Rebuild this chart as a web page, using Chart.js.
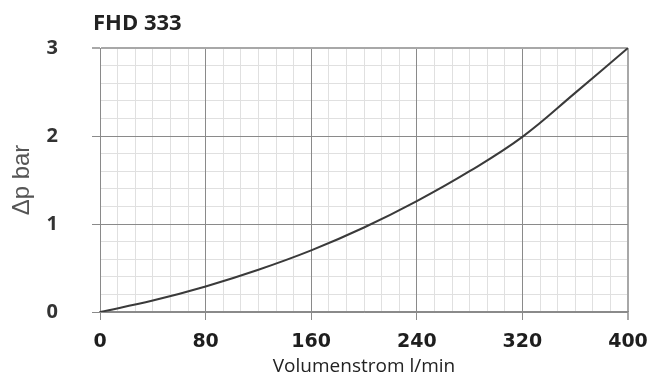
<!DOCTYPE html>
<html>
<head>
<meta charset="utf-8">
<script src="https://cdn.jsdelivr.net/npm/chart.js@4/dist/chart.umd.min.js"></script>
<style>
  html, body { margin: 0; padding: 0; background: #fff; }
  canvas { display: block; }
</style>
</head>
<body>
<canvas id="c" width="652" height="378"></canvas>
<script>
// Pressure drop curve of the FHD 333 filter housing
const TITLE = 'FHD 333';
const X_TITLE = 'Volumenstrom l/min';
const Y_TITLE = 'Δp bar';

const flowRates = [0, 40, 80, 120, 160, 200, 240, 280, 320, 360, 400];     // l/min
const pressureDrop = [0, 0.13, 0.29, 0.48, 0.70, 0.96, 1.26, 1.60, 1.99, 2.49, 3.0]; // bar

const xTicks = [0, 80, 160, 240, 320, 400];
const yTicks = [0, 1, 2, 3];
const X_MINOR_STEP = 80 / 6;
const Y_MINOR_STEP = 0.2;

const X_MIN = 0, X_MAX = 400, Y_MIN = 0, Y_MAX = 3;

const points = flowRates.map((q, i) => ({ x: q, y: pressureDrop[i] }));

function minorTicks(min, max, step) {
  const out = [];
  const n = Math.round((max - min) / step);
  for (let i = 0; i <= n; i++) out.push({ value: min + i * step });
  return out;
}

const headingPlugin = {
  id: 'heading',
  afterDraw(chart) {
    const ctx = chart.ctx;
    ctx.save();
    ctx.font = 'bold 22px "Open Sans"';
    ctx.fillStyle = '#222';
    ctx.textBaseline = 'alphabetic';
    ctx.textAlign = 'left';
    ctx.fillText(TITLE, 93, 30);
    ctx.restore();
  }
};

new Chart(document.getElementById('c'), {
  type: 'line',
  data: {
    datasets: [{
      data: points,
      borderColor: '#3a3a3a',
      borderWidth: 2,
      pointRadius: 0,
      tension: 0.4,
      fill: false
    }]
  },
  options: {
    responsive: false,
    animation: false,
    events: [],
    layout: { padding: { top: 48, right: 24, bottom: 0, left: 0 } },
    plugins: { legend: { display: false }, tooltip: { enabled: false }, title: { display: false } },
    scales: {
      xm: {
        type: 'linear', position: 'bottom', min: X_MIN, max: X_MAX,
        afterBuildTicks: s => { s.ticks = minorTicks(X_MIN, X_MAX, X_MINOR_STEP); },
        afterFit: s => { s.height = 0; s.paddingLeft = 0; s.paddingRight = 0; },
        ticks: { display: false },
        border: { display: false },
        grid: { z: -2, color: '#e0e0e0', lineWidth: 1, drawTicks: false }
      },
      ym: {
        type: 'linear', position: 'left', min: Y_MIN, max: Y_MAX,
        afterBuildTicks: s => { s.ticks = minorTicks(Y_MIN, Y_MAX, Y_MINOR_STEP); },
        afterFit: s => { s.width = 0; s.paddingTop = 0; s.paddingBottom = 0; },
        ticks: { display: false },
        border: { display: false },
        grid: { z: -2, color: '#e0e0e0', lineWidth: 1, drawTicks: false }
      },
      x: {
        type: 'linear', position: 'bottom', min: X_MIN, max: X_MAX,
        afterBuildTicks: s => { s.ticks = xTicks.map(v => ({ value: v })); },
        afterFit: s => { s.height = 66; s.paddingLeft = 0; s.paddingRight = 0; },
        ticks: {
          color: '#1e1e1e',
          font: { family: '"DejaVu Sans"', weight: 'bold', size: 19 },
          padding: 11,
          maxRotation: 0
        },
        border: { color: '#8a8a8a', width: 1.5 },
        grid: {
          z: -1,
          tickLength: 8,
          color: c => (c.tick && c.tick.value === X_MAX) ? '#a8a8a8' : '#8a8a8a',
          lineWidth: c => (c.tick && c.tick.value === X_MAX) ? 2 : 1
        },
        title: {
          display: true, text: X_TITLE, color: '#222',
          font: { family: '"Open Sans"', size: 19 },
          padding: { top: 0, bottom: 0 }
        }
      },
      y: {
        type: 'linear', position: 'left', min: Y_MIN, max: Y_MAX,
        afterBuildTicks: s => { s.ticks = yTicks.map(v => ({ value: v })); },
        afterFit: s => { s.width = 100; s.paddingTop = 0; s.paddingBottom = 0; },
        ticks: {
          color: '#333',
          font: { family: '"Open Sans"', weight: 'bold', size: 20 },
          padding: 34
        },
        border: { color: '#8a8a8a', width: 1 },
        grid: {
          z: -1,
          tickLength: 8,
          color: c => (c.tick && c.tick.value === Y_MAX) ? '#a8a8a8' : '#8a8a8a',
          lineWidth: c => (c.tick && c.tick.value === Y_MAX) ? 2 : 1
        },
        title: {
          display: true, text: Y_TITLE, color: '#555',
          font: { family: '"Liberation Sans"', size: 24 },
          padding: { top: 8, bottom: 0 }
        }
      }
    }
  },
  plugins: [headingPlugin]
});
</script>
</body>
</html>
